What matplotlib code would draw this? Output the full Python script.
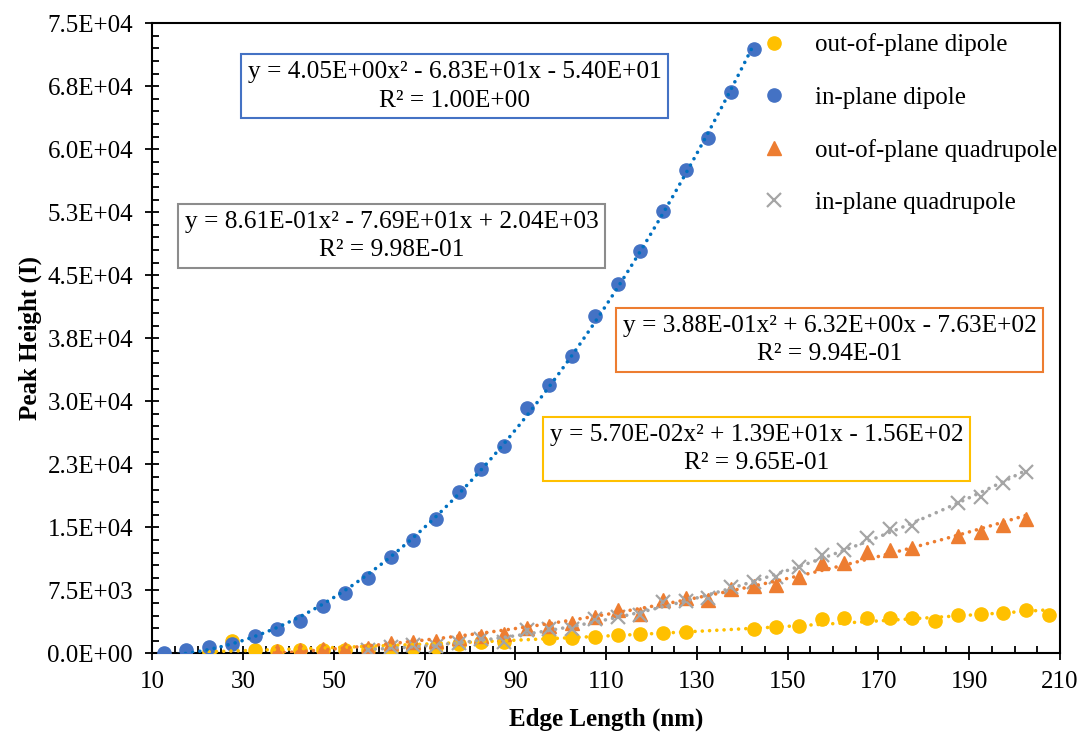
import numpy as np
import matplotlib
matplotlib.use("Agg")
import matplotlib.pyplot as plt
from matplotlib.ticker import MultipleLocator, FixedLocator, FixedFormatter

plt.rcParams['font.family'] = ['Liberation Serif', 'DejaVu Serif']

# ---- data: peak height vs. edge length for each mode ----
edge_opd = [22.5, 27.5, 32.5, 37.5, 42.5, 47.5, 52.5, 57.5, 62.5, 67.5, 72.5, 77.5,
            82.5, 87.5, 97.5, 102.5, 107.5, 112.5, 117.5, 122.5, 127.5, 142.5, 147.5,
            152.5, 157.5, 162.5, 167.5, 172.5, 177.5, 182.5, 187.5, 192.5, 197.5,
            202.5, 207.5]
peak_opd = [100, 1500, 400, 300, 350, 420, 400, 400, 400, 600, 790, 1150,
            1300, 1390, 1780, 1860, 1980, 2180, 2300, 2380, 2550, 2920, 3100,
            3290, 4050, 4170, 4230, 4170, 4170, 3850, 4560, 4680, 4840,
            5160, 4560]

edge_ipd = [12.5, 17.5, 22.5, 27.5, 32.5, 37.5, 42.5, 47.5, 52.5, 57.5, 62.5, 67.5,
            72.5, 77.5, 82.5, 87.5, 92.5, 97.5, 102.5, 107.5, 112.5, 117.5, 122.5,
            127.5, 132.5, 137.5, 142.5]
peak_ipd = [40, 390, 750, 1100, 2060, 2950, 3850, 5630, 7180, 9000, 11450, 13540,
            16000, 19230, 21900, 24670, 29260, 31890, 35380, 40190, 43930, 47850, 52610,
            57490, 61320, 66850, 71990]

edge_opq = [37.5, 42.5, 47.5, 52.5, 57.5, 62.5, 67.5, 72.5, 77.5, 82.5, 87.5, 92.5,
            97.5, 102.5, 107.5, 112.5, 117.5, 122.5, 127.5, 132.5, 137.5, 142.5, 147.5,
            152.5, 157.5, 162.5, 167.5, 172.5, 177.5, 187.5, 192.5, 197.5, 202.5]
peak_opq = [310, 390, 480, 550, 630, 1230, 1390, 1460, 1780, 2080, 2300, 2980,
            3250, 3550, 4300, 5150, 4650, 6350, 6600, 6300, 7650, 8050, 8130,
            9050, 10710, 10790, 12100, 12300, 12500, 13960, 14400, 15270, 15950]

edge_ipq = [57.5, 62.5, 67.5, 72.5, 77.5, 82.5, 87.5, 92.5, 97.5, 102.5, 107.5, 112.5,
            117.5, 122.5, 127.5, 132.5, 137.5, 142.5, 147.5, 152.5, 157.5, 162.5, 167.5,
            172.5, 177.5, 187.5, 192.5, 197.5, 202.5]
peak_ipq = [390, 750, 990, 870, 1200, 1700, 1400, 2770, 2950, 2870, 4050, 4360,
            4560, 6050, 6250, 6550, 7950, 8430, 9120, 10240, 11700, 12300, 13690,
            14760, 15150, 17930, 18640, 20310, 21620]

# quadratic trendline coefficients (a, b, c) and R^2
fit_opd = [5.70e-02, 1.39e+01, -1.56e+02]
fit_ipd = [4.05e+00, -6.83e+01, -5.40e+01]
fit_opq = [3.88e-01, 6.32e+00, -7.63e+02]
fit_ipq = [8.61e-01, -7.69e+01, 2.04e+03]
r2_opd, r2_ipd, r2_opq, r2_ipq = 9.65e-01, 1.00e+00, 9.94e-01, 9.98e-01

labels = ["out-of-plane dipole", "in-plane dipole",
          "out-of-plane quadrupole", "in-plane quadrupole"]

x_ticks = [10, 30, 50, 70, 90, 110, 130, 150, 170, 190, 210]
y_ticks = [0, 7500, 15000, 22500, 30000, 37500, 45000, 52500, 60000, 67500, 75000]
y_tick_labels = ["0.0E+00", "7.5E+03", "1.5E+04", "2.3E+04", "3.0E+04", "3.8E+04",
                 "4.5E+04", "5.3E+04", "6.0E+04", "6.8E+04", "7.5E+04"]

# ---- styling ----
c_opd, c_ipd, c_opq, c_ipq = "#FFC000", "#4472C4", "#ED7D31", "#A5A5A5"
c_ipd_line = "#0070C0"
FS = 18

fig = plt.figure(figsize=(10.82, 7.32), dpi=100)
ax = fig.add_axes([0.1409, 0.1075, 0.8387, 0.8607])

ax.plot(edge_opd, peak_opd, 'o', ms=9.5, color=c_opd, mec=c_opd, ls='none',
        label=labels[0], zorder=3)
ax.plot(edge_ipd, peak_ipd, 'o', ms=9.5, color=c_ipd, mec=c_ipd, ls='none',
        label=labels[1], zorder=3)
ax.plot(edge_opq, peak_opq, '^', ms=10, color=c_opq, mec=c_opq, ls='none',
        label=labels[2], zorder=3)
ax.plot(edge_ipq, peak_ipq, 'x', ms=9.5, mew=1.6, color=c_ipq, ls='none',
        label=labels[3], zorder=3)


def trend(edges, coef, color):
    xs = np.linspace(min(edges), max(edges), 300)
    ys = np.polyval(coef, xs)
    ax.plot(xs, ys, color=color, lw=2.6, ls=(0, (0.01, 2.0)),
            dash_capstyle='round', zorder=4)


trend(edge_opd, fit_opd, c_opd)
trend(edge_ipd, fit_ipd, c_ipd_line)
trend(edge_opq, fit_opq, c_opq)
trend(edge_ipq, fit_ipq, c_ipq)


def eq_text(coef, r2):
    a, b, c = coef
    sb = '+' if b >= 0 else '-'
    sc = '+' if c >= 0 else '-'
    return (f"y = {a:.2E}x\u00b2 {sb} {abs(b):.2E}x {sc} {abs(c):.2E}\n"
            f"R\u00b2 = {r2:.2E}")


def eq_box(xf, yf, coef, r2, edge):
    ax.text(xf, yf, eq_text(coef, r2), transform=ax.transAxes, ha='center',
            va='center', multialignment='center', fontsize=18.3, zorder=6,
            linespacing=1.4,
            bbox=dict(boxstyle='square,pad=0.26', fc='white', ec=edge, lw=1.5))


eq_box(0.3328, 0.8997, fit_ipd, r2_ipd, c_ipd)
eq_box(0.2636, 0.6624, fit_ipq, r2_ipq, "#8C8C8C")
eq_box(0.7466, 0.4973, fit_opq, r2_opq, c_opq)
eq_box(0.6658, 0.3243, fit_opd, r2_opd, c_opd)

ax.set_xlim(10, 210)
ax.set_ylim(0, 75000)
ax.xaxis.set_major_locator(FixedLocator(x_ticks))
ax.xaxis.set_minor_locator(MultipleLocator(5))
ax.yaxis.set_major_locator(FixedLocator(y_ticks))
ax.yaxis.set_major_formatter(FixedFormatter(y_tick_labels))
ax.yaxis.set_minor_locator(MultipleLocator(1500))

for s in ax.spines.values():
    s.set_linewidth(1.5)
ax.tick_params(which='major', direction='inout', length=10, width=1.3,
               labelsize=FS, top=False, right=False)
ax.tick_params(axis='y', which='major', pad=9)
ax.tick_params(axis='x', which='major', pad=8)
ax.tick_params(which='minor', direction='in', length=5, width=1.3,
               top=False, right=False)

ax.set_xlabel("Edge Length (nm)", fontsize=FS, fontweight='bold')
ax.set_ylabel("Peak Height (I)", fontsize=FS, fontweight='bold')
ax.xaxis.set_label_coords(0.5, -0.086)
ax.yaxis.set_label_coords(-0.122, 0.5)

leg = ax.legend(loc='upper left', bbox_to_anchor=(0.66, 1.0), frameon=False,
                fontsize=FS, handlelength=1.0, handletextpad=1.15,
                labelspacing=1.2, borderaxespad=0)
leg.set_zorder(7)

fig.savefig("out.png", dpi=100)
